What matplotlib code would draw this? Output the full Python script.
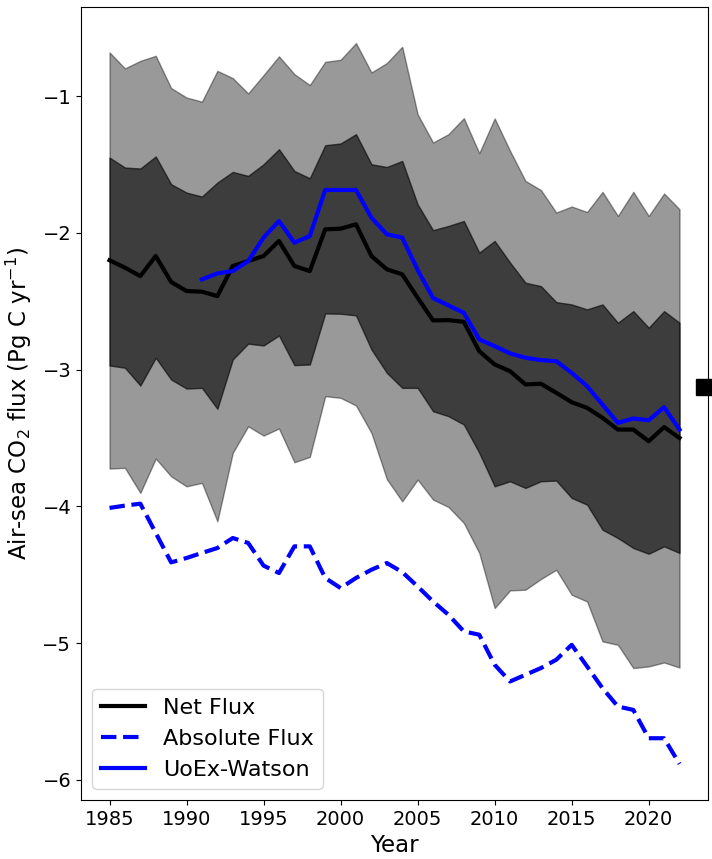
import numpy as np
import matplotlib
matplotlib.use("Agg")
import matplotlib.pyplot as plt

years = np.arange(1985, 2023)

# ensemble spread (outer = light band, inner = dark band)
outer_hi = [-0.68, -0.797, -0.742, -0.705, -0.941, -1.01, -1.04, -0.815, -0.868, -0.98,
            -0.846, -0.709, -0.839, -0.919, -0.749, -0.734, -0.612, -0.827, -0.758, -0.639,
            -1.132, -1.339, -1.278, -1.161, -1.417, -1.163, -1.40, -1.62, -1.686, -1.851,
            -1.807, -1.847, -1.70, -1.876, -1.70, -1.876, -1.712, -1.827]
inner_hi = [-1.449, -1.522, -1.529, -1.441, -1.644, -1.705, -1.734, -1.632, -1.554, -1.583,
            -1.498, -1.388, -1.547, -1.60, -1.359, -1.346, -1.278, -1.498, -1.518, -1.474,
            -1.791, -1.98, -1.949, -1.913, -2.144, -2.059, -2.217, -2.364, -2.389, -2.506,
            -2.523, -2.559, -2.523, -2.657, -2.572, -2.693, -2.572, -2.657]
inner_lo = [-2.969, -2.986, -3.116, -2.913, -3.072, -3.138, -3.133, -3.286, -2.925, -2.81,
            -2.823, -2.75, -2.967, -2.962, -2.589, -2.591, -2.603, -2.852, -3.023, -3.133,
            -3.133, -3.304, -3.34, -3.401, -3.608, -3.853, -3.816, -3.865, -3.816, -3.811,
            -3.938, -3.987, -4.17, -4.231, -4.304, -4.346, -4.292, -4.34]
outer_lo = [-3.723, -3.718, -3.901, -3.65, -3.78, -3.853, -3.828, -4.109, -3.608, -3.414,
            -3.482, -3.43, -3.677, -3.638, -3.194, -3.206, -3.262, -3.462, -3.80, -3.963,
            -3.804, -3.95, -4.004, -4.121, -4.34, -4.743, -4.614, -4.609, -4.531, -4.463,
            -4.646, -4.695, -4.987, -5.012, -5.182, -5.17, -5.141, -5.178]

net_flux = [-2.20, -2.254, -2.316, -2.169, -2.359, -2.425, -2.43, -2.462, -2.242, -2.206,
            -2.169, -2.059, -2.242, -2.279, -1.974, -1.969, -1.937, -2.169, -2.266, -2.303,
            -2.474, -2.64, -2.638, -2.65, -2.865, -2.962, -3.011, -3.108, -3.103, -3.169,
            -3.238, -3.279, -3.352, -3.438, -3.438, -3.523, -3.42, -3.499]
abs_flux = [-4.011, -3.994, -3.98, -4.194, -4.409, -4.377, -4.34, -4.304, -4.231, -4.267,
            -4.433, -4.487, -4.292, -4.292, -4.523, -4.597, -4.523, -4.463, -4.414, -4.48,
            -4.585, -4.695, -4.792, -4.914, -4.938, -5.158, -5.28, -5.231, -5.182, -5.121,
            -5.012, -5.17, -5.329, -5.463, -5.488, -5.695, -5.695, -5.883]

watson_years = np.arange(1991, 2023)
watson = [-2.34, -2.296, -2.279, -2.206, -2.034, -1.913, -2.071, -2.023, -1.686, -1.686,
          -1.686, -1.888, -2.01, -2.034, -2.27, -2.476, -2.53, -2.584, -2.779, -2.828,
          -2.881, -2.913, -2.93, -2.938, -3.023, -3.121, -3.255, -3.389, -3.357, -3.37,
          -3.274, -3.438]

point_val = -3.127

fig, ax = plt.subplots(figsize=(7.12, 8.59), dpi=100)
fig.subplots_adjust(left=0.1138, right=0.9944, bottom=0.0687, top=0.9918)

ax.fill_between(years, outer_lo, outer_hi, color='k', alpha=0.4)
ax.fill_between(years, inner_lo, inner_hi, color='k', alpha=0.6)

ax.plot(years, net_flux, color='k', lw=3, label='Net Flux')
ax.plot(years, abs_flux, color='b', lw=3, ls='--', label='Absolute Flux')
ax.plot(watson_years, watson, color='b', lw=3, label='UoEx-Watson')

# freeze the limits, then put the single value on the right edge
ax.set_xlim(ax.get_xlim())
ax.set_ylim(ax.get_ylim())
ax.plot([ax.get_xlim()[1] - 0.25], [point_val], 's', color='k', ms=12, clip_on=False, zorder=1)

ax.set_xlabel('Year', fontsize=16.5)
ax.set_ylabel('Air-sea CO$_2$ flux (Pg C yr$^{-1}$)', fontsize=16.5, labelpad=6)
ax.tick_params(labelsize=14)
ax.set_xticks(np.arange(1985, 2021, 5))

ax.legend(loc='lower left', fontsize=16)

fig.savefig('out.png')
